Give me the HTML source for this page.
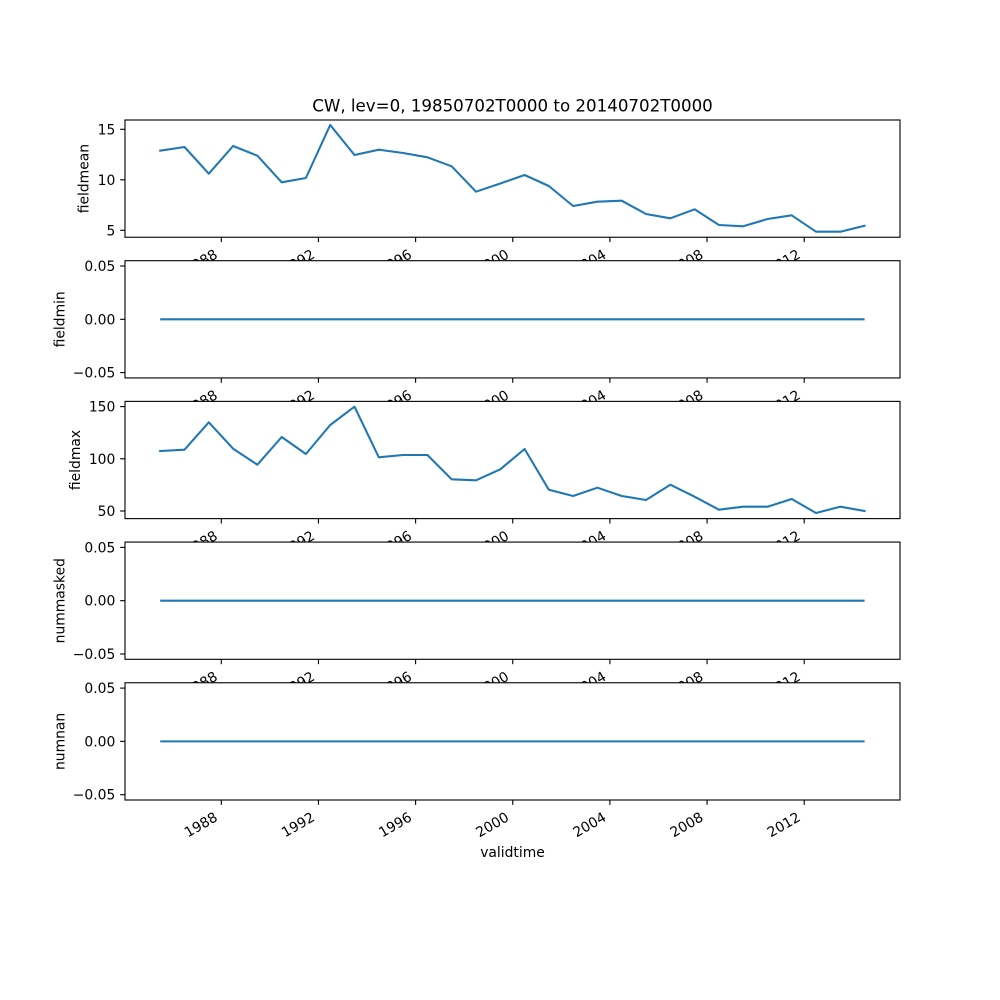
<!DOCTYPE html>
<html>
<head>
<meta charset="utf-8">
<style>
html,body{margin:0;padding:0;background:#fff;}
svg{display:block;}
text{font-family:"DejaVu Sans","Liberation Sans",sans-serif;fill:#000;}
.tl{font-size:13.89px;}
</style>
</head>
<body>
<svg width="1000" height="1000" viewBox="0 0 1000 1000" xmlns="http://www.w3.org/2000/svg">
<rect x="0" y="0" width="1000" height="1000" fill="#fff"/>

<!-- Title -->
<text x="512.5" y="111.7" font-size="16.67" text-anchor="middle">CW, lev=0, 19850702T0000 to 20140702T0000</text>

<!-- ===== Axes 1: fieldmean ===== -->
<rect x="125" y="120" width="775" height="117.24" fill="#fff"/>
<polyline fill="none" stroke="#1f77b4" stroke-width="2.08" stroke-linejoin="round" stroke-linecap="square" points="160.2,150.7 184.5,147 208.8,173.7 233.1,146 257.4,155.7 281.7,182.3 305.9,178 330.2,125 354.5,155 378.8,149.7 403.1,153 427.4,157.3 451.7,166.3 476.0,191.7 500.3,183.5 524.6,175 548.8,186 573.1,206 597.4,201.7 621.7,200.7 646.0,214 670.3,218.3 694.6,209.3 718.9,225 743.2,226.3 767.5,219 791.7,215.3 816.0,231.7 840.3,231.7 864.6,225.7"/>
<rect x="125" y="120" width="775" height="117.24" fill="none" stroke="#000" stroke-width="1.11"/>
<g stroke="#000" stroke-width="1.11">
<line x1="125" y1="129.3" x2="120.14" y2="129.3"/>
<line x1="125" y1="179.8" x2="120.14" y2="179.8"/>
<line x1="125" y1="230.3" x2="120.14" y2="230.3"/>
<line x1="221.3" y1="237.24" x2="221.3" y2="242.1"/>
<line x1="318.45" y1="237.24" x2="318.45" y2="242.1"/>
<line x1="415.6" y1="237.24" x2="415.6" y2="242.1"/>
<line x1="512.75" y1="237.24" x2="512.75" y2="242.1"/>
<line x1="609.9" y1="237.24" x2="609.9" y2="242.1"/>
<line x1="707.05" y1="237.24" x2="707.05" y2="242.1"/>
<line x1="804.2" y1="237.24" x2="804.2" y2="242.1"/>
</g>
<g class="tl" text-anchor="end">
<text x="115.3" y="134.3">15</text>
<text x="115.3" y="184.8">10</text>
<text x="115.3" y="235.3">5</text>
<text transform="rotate(-30 218.5 257.2)" x="218.5" y="257.2">1988</text>
<text transform="rotate(-30 315.65 257.2)" x="315.65" y="257.2">1992</text>
<text transform="rotate(-30 412.8 257.2)" x="412.8" y="257.2">1996</text>
<text transform="rotate(-30 509.95 257.2)" x="509.95" y="257.2">2000</text>
<text transform="rotate(-30 607.1 257.2)" x="607.1" y="257.2">2004</text>
<text transform="rotate(-30 704.25 257.2)" x="704.25" y="257.2">2008</text>
<text transform="rotate(-30 801.4 257.2)" x="801.4" y="257.2">2012</text>
</g>
<text class="tl" transform="rotate(-90 88.5 178.6)" x="88.5" y="178.6" text-anchor="middle">fieldmean</text>

<!-- ===== Axes 2: fieldmin ===== -->
<rect x="125" y="260.69" width="775" height="117.24" fill="#fff"/>
<line x1="160.2" y1="319.31" x2="864.6" y2="319.31" stroke="#1f77b4" stroke-width="2.08"/>
<rect x="125" y="260.69" width="775" height="117.24" fill="none" stroke="#000" stroke-width="1.11"/>
<g stroke="#000" stroke-width="1.11">
<line x1="125" y1="266.0" x2="120.14" y2="266.0"/>
<line x1="125" y1="319.31" x2="120.14" y2="319.31"/>
<line x1="125" y1="372.6" x2="120.14" y2="372.6"/>
<line x1="221.3" y1="377.93" x2="221.3" y2="382.8"/>
<line x1="318.45" y1="377.93" x2="318.45" y2="382.8"/>
<line x1="415.6" y1="377.93" x2="415.6" y2="382.8"/>
<line x1="512.75" y1="377.93" x2="512.75" y2="382.8"/>
<line x1="609.9" y1="377.93" x2="609.9" y2="382.8"/>
<line x1="707.05" y1="377.93" x2="707.05" y2="382.8"/>
<line x1="804.2" y1="377.93" x2="804.2" y2="382.8"/>
</g>
<g class="tl" text-anchor="end">
<text x="115.3" y="271.0">0.05</text>
<text x="115.3" y="324.3">0.00</text>
<text x="115.3" y="377.6">−0.05</text>
<text transform="rotate(-30 218.5 397.9)" x="218.5" y="397.9">1988</text>
<text transform="rotate(-30 315.65 397.9)" x="315.65" y="397.9">1992</text>
<text transform="rotate(-30 412.8 397.9)" x="412.8" y="397.9">1996</text>
<text transform="rotate(-30 509.95 397.9)" x="509.95" y="397.9">2000</text>
<text transform="rotate(-30 607.1 397.9)" x="607.1" y="397.9">2004</text>
<text transform="rotate(-30 704.25 397.9)" x="704.25" y="397.9">2008</text>
<text transform="rotate(-30 801.4 397.9)" x="801.4" y="397.9">2012</text>
</g>
<text class="tl" transform="rotate(-90 64.5 319.31)" x="64.5" y="319.31" text-anchor="middle">fieldmin</text>

<!-- ===== Axes 3: fieldmax ===== -->
<rect x="125" y="401.38" width="775" height="117.24" fill="#fff"/>
<polyline fill="none" stroke="#1f77b4" stroke-width="2.08" stroke-linejoin="round" stroke-linecap="square" points="160.2,451 184.5,449.7 208.8,422.3 233.1,448.7 257.4,464.7 281.7,437 305.9,454 330.2,425 354.5,406.7 378.8,457.3 403.1,455 427.4,455 451.7,479.3 476.0,480.3 500.3,469.3 524.6,449 548.8,489.7 573.1,496 597.4,487.7 621.7,496 646.0,500 670.3,484.7 694.6,496.7 718.9,509.7 743.2,506.7 767.5,506.7 791.7,499 816.0,513 840.3,506.7 864.6,511"/>
<rect x="125" y="401.38" width="775" height="117.24" fill="none" stroke="#000" stroke-width="1.11"/>
<g stroke="#000" stroke-width="1.11">
<line x1="125" y1="406.6" x2="120.14" y2="406.6"/>
<line x1="125" y1="458.8" x2="120.14" y2="458.8"/>
<line x1="125" y1="511.0" x2="120.14" y2="511.0"/>
<line x1="221.3" y1="518.62" x2="221.3" y2="523.5"/>
<line x1="318.45" y1="518.62" x2="318.45" y2="523.5"/>
<line x1="415.6" y1="518.62" x2="415.6" y2="523.5"/>
<line x1="512.75" y1="518.62" x2="512.75" y2="523.5"/>
<line x1="609.9" y1="518.62" x2="609.9" y2="523.5"/>
<line x1="707.05" y1="518.62" x2="707.05" y2="523.5"/>
<line x1="804.2" y1="518.62" x2="804.2" y2="523.5"/>
</g>
<g class="tl" text-anchor="end">
<text x="115.3" y="411.6">150</text>
<text x="115.3" y="463.8">100</text>
<text x="115.3" y="516.0">50</text>
<text transform="rotate(-30 218.5 538.6)" x="218.5" y="538.6">1988</text>
<text transform="rotate(-30 315.65 538.6)" x="315.65" y="538.6">1992</text>
<text transform="rotate(-30 412.8 538.6)" x="412.8" y="538.6">1996</text>
<text transform="rotate(-30 509.95 538.6)" x="509.95" y="538.6">2000</text>
<text transform="rotate(-30 607.1 538.6)" x="607.1" y="538.6">2004</text>
<text transform="rotate(-30 704.25 538.6)" x="704.25" y="538.6">2008</text>
<text transform="rotate(-30 801.4 538.6)" x="801.4" y="538.6">2012</text>
</g>
<text class="tl" transform="rotate(-90 80 460)" x="80" y="460" text-anchor="middle">fieldmax</text>

<!-- ===== Axes 4: nummasked ===== -->
<rect x="125" y="542.07" width="775" height="117.24" fill="#fff"/>
<line x1="160.2" y1="600.69" x2="864.6" y2="600.69" stroke="#1f77b4" stroke-width="2.08"/>
<rect x="125" y="542.07" width="775" height="117.24" fill="none" stroke="#000" stroke-width="1.11"/>
<g stroke="#000" stroke-width="1.11">
<line x1="125" y1="547.4" x2="120.14" y2="547.4"/>
<line x1="125" y1="600.69" x2="120.14" y2="600.69"/>
<line x1="125" y1="654.0" x2="120.14" y2="654.0"/>
<line x1="221.3" y1="659.31" x2="221.3" y2="664.2"/>
<line x1="318.45" y1="659.31" x2="318.45" y2="664.2"/>
<line x1="415.6" y1="659.31" x2="415.6" y2="664.2"/>
<line x1="512.75" y1="659.31" x2="512.75" y2="664.2"/>
<line x1="609.9" y1="659.31" x2="609.9" y2="664.2"/>
<line x1="707.05" y1="659.31" x2="707.05" y2="664.2"/>
<line x1="804.2" y1="659.31" x2="804.2" y2="664.2"/>
</g>
<g class="tl" text-anchor="end">
<text x="115.3" y="552.4">0.05</text>
<text x="115.3" y="605.7">0.00</text>
<text x="115.3" y="659.0">−0.05</text>
<text transform="rotate(-30 218.5 679.3)" x="218.5" y="679.3">1988</text>
<text transform="rotate(-30 315.65 679.3)" x="315.65" y="679.3">1992</text>
<text transform="rotate(-30 412.8 679.3)" x="412.8" y="679.3">1996</text>
<text transform="rotate(-30 509.95 679.3)" x="509.95" y="679.3">2000</text>
<text transform="rotate(-30 607.1 679.3)" x="607.1" y="679.3">2004</text>
<text transform="rotate(-30 704.25 679.3)" x="704.25" y="679.3">2008</text>
<text transform="rotate(-30 801.4 679.3)" x="801.4" y="679.3">2012</text>
</g>
<text class="tl" transform="rotate(-90 64.5 600.69)" x="64.5" y="600.69" text-anchor="middle">nummasked</text>

<!-- ===== Axes 5: numnan ===== -->
<rect x="125" y="682.76" width="775" height="117.24" fill="#fff"/>
<line x1="160.2" y1="741.38" x2="864.6" y2="741.38" stroke="#1f77b4" stroke-width="2.08"/>
<rect x="125" y="682.76" width="775" height="117.24" fill="none" stroke="#000" stroke-width="1.11"/>
<g stroke="#000" stroke-width="1.11">
<line x1="125" y1="688.1" x2="120.14" y2="688.1"/>
<line x1="125" y1="741.38" x2="120.14" y2="741.38"/>
<line x1="125" y1="794.7" x2="120.14" y2="794.7"/>
<line x1="221.3" y1="800" x2="221.3" y2="804.86"/>
<line x1="318.45" y1="800" x2="318.45" y2="804.86"/>
<line x1="415.6" y1="800" x2="415.6" y2="804.86"/>
<line x1="512.75" y1="800" x2="512.75" y2="804.86"/>
<line x1="609.9" y1="800" x2="609.9" y2="804.86"/>
<line x1="707.05" y1="800" x2="707.05" y2="804.86"/>
<line x1="804.2" y1="800" x2="804.2" y2="804.86"/>
</g>
<g class="tl" text-anchor="end">
<text x="115.3" y="693.1">0.05</text>
<text x="115.3" y="746.4">0.00</text>
<text x="115.3" y="799.7">−0.05</text>
<text transform="rotate(-30 218.5 820)" x="218.5" y="820">1988</text>
<text transform="rotate(-30 315.65 820)" x="315.65" y="820">1992</text>
<text transform="rotate(-30 412.8 820)" x="412.8" y="820">1996</text>
<text transform="rotate(-30 509.95 820)" x="509.95" y="820">2000</text>
<text transform="rotate(-30 607.1 820)" x="607.1" y="820">2004</text>
<text transform="rotate(-30 704.25 820)" x="704.25" y="820">2008</text>
<text transform="rotate(-30 801.4 820)" x="801.4" y="820">2012</text>
</g>
<text class="tl" transform="rotate(-90 64.5 741.38)" x="64.5" y="741.38" text-anchor="middle">numnan</text>

<!-- x label -->
<text class="tl" x="512.5" y="857" text-anchor="middle">validtime</text>
</svg>
</body>
</html>
